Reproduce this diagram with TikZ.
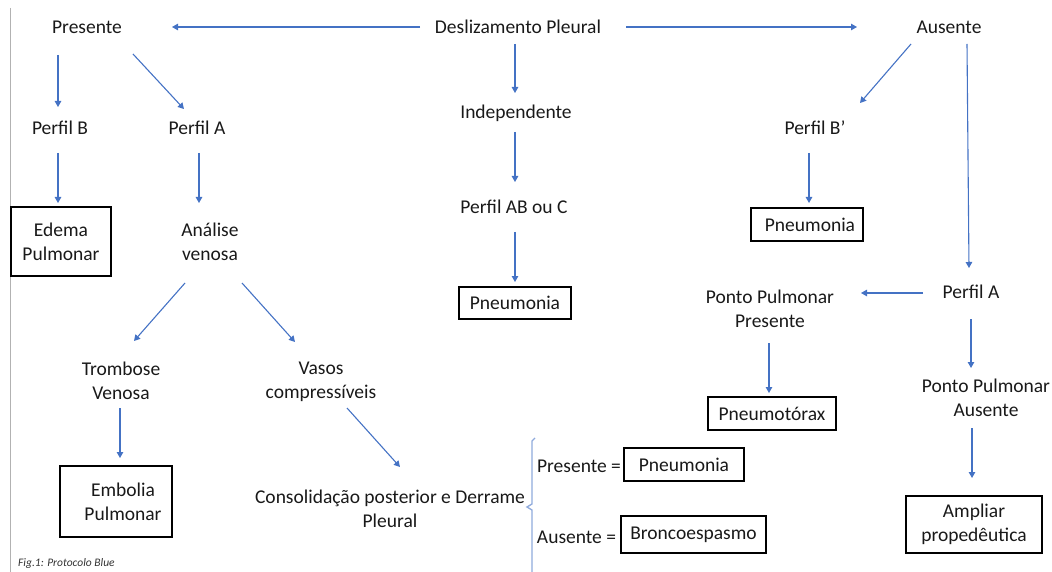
\documentclass[tikz,border=0pt]{standalone}
\usepackage{fontspec}
\setmainfont{Carlito}
\usetikzlibrary{arrows.meta,calc}
\definecolor{flowblue}{HTML}{4472C4}
\definecolor{bracelight}{HTML}{8FAADC}
\tikzset{
  txt/.style={font=\fontsize{19.5}{24}\selectfont,inner sep=0pt,align=center,text=black!90},
  result/.style={txt,draw=black,line width=2pt},
  flow/.style={draw=flowblue,line width=1.1pt,-{Triangle[length=6pt,width=6.5pt]}}
}
\begin{document}
\begin{tikzpicture}[x=1pt,y=-1pt]
\useasboundingbox (0,0) rectangle (1052,572);
\draw [black!30,line width=1pt] (10,8) -- (10,572);
% top row
\node (desl) at (518,27) [txt] {Deslizamento Pleural};
\node (pres) at (87,27) [txt] {Presente};
\node  (aus) at (949,27) [txt] {Ausente};
% left branch
\node  (perfB) at (60,128) [txt] {Perfil B};
\node  (perfA) at (197,128) [txt] {Perfil A};
\node  (edema) at (61,241.5) [result,minimum width=100pt,minimum height=69pt] {Edema\\Pulmonar};
\node (analise) at (210,242) [txt] {Análise\\venosa};
\node  (tromb) at (121,381) [txt] {Trombose\\Venosa};
\node  (vasos) at (321,381.5) [txt] {Vasos\\compressíveis};
\node (embolia) at (116,501.5) [result,minimum width=112pt,minimum height=71pt] {\hspace*{14pt}Embolia\\\hspace*{14pt}Pulmonar};
\node (consol) at (390,508.5) [txt] {Consolidação posterior e Derrame\\Pleural};
\node (presIg) at (579,466) [txt] {Presente =};
\node  (ausIg) at (576.5,537) [txt] {Ausente =};
\node (pneuSm) at (684,464.5) [result,minimum width=120pt,minimum height=33pt] {Pneumonia};
\node (bronco) at (693.5,534.5) [result,minimum width=145pt,minimum height=37pt] {Broncoespasmo};
% middle branch
\node  (indep) at (516,113) [txt] {Independente};
\node (perfAB) at (514,207) [txt] {Perfil AB ou C};
\node (pneuMid) at (515,303) [result,minimum width=112pt,minimum height=32pt] {Pneumonia};
% right branch
\node (perfBp) at (815,128) [txt] {Perfil B'};
\node  (pneuR) at (807,224.5) [result,minimum width=112pt,minimum height=33pt] {\hspace*{6pt}Pneumonia};
\node (perfAr) at (971,292) [txt] {Perfil A};
\node (pontoPres) at (770,308.5) [txt] {Ponto Pulmonar\\Presente};
\node (pontoAus) at (986,397.5) [txt] {Ponto Pulmonar\\Ausente};
\node (pneumot) at (772,413.5) [result,minimum width=128pt,minimum height=33pt] {Pneumotórax};
\node (ampliar) at (974,524.5) [result,minimum width=136pt,minimum height=57pt] {Ampliar\\propedêutica};
\node (caption) at (18,563) [anchor=west,inner sep=0pt,font=\fontsize{11.5}{13}\selectfont\itshape,text=black!80] {Fig.1: Protocolo Blue};
% brace
\draw [bracelight,line width=1.3pt] (535,438) -- (532,441) -- (532,504) -- (527,507) -- (532,510) -- (532,572);
% arrows
\draw [flow] ($(desl)+(-98,0)$) -- ($(pres)+(85,0)$);
\draw [flow] ($(desl)+(108,0)$) -- ($(aus)+(-92,0)$);
\draw [flow] ($(desl)+(-3,17)$) -- ($(indep)+(-1,-20)$);
\draw [flow] ($(indep)+(-1,19)$) -- ($(perfAB)+(1,-25)$);
\draw [flow] ($(perfAB)+(1,25)$) -- ($(pneuMid)+(0,-21)$);
\draw [flow] ($(pres)+(-29,28)$) -- ($(perfB)+(-2,-21)$);
\draw [flow] ($(pres)+(46,27)$) -- ($(perfA)+(-13,-19)$);
\draw [flow] ($(perfB)+(-2,25)$) -- ($(edema)+(-3,-38.5)$);
\draw [flow] ($(perfA)+(2,25)$) -- ($(analise)+(-11,-39)$);
\draw [flow] ($(analise)+(-25,41)$) -- ($(tromb)+(13,-40)$);
\draw [flow] ($(analise)+(32,41)$) -- ($(vasos)+(-26,-39.5)$);
\draw [flow] ($(tromb)+(-1,27)$) -- ($(embolia)+(4,-43.5)$);
\draw [flow] ($(vasos)+(26,26.5)$) -- ($(consol)+(10,-41.5)$);
\draw [flow] ($(aus)+(-38,17)$) -- ($(perfBp)+(45,-25)$);
\draw [flow] ($(perfBp)+(-6,25)$) -- ($(pneuR)+(2,-21.5)$);
\draw [flow] ($(aus)+(18,17)$) -- ($(perfAr)+(-2,-24)$);
\draw [flow] ($(perfAr)+(-48,1)$) -- ($(pontoPres)+(91,-15.5)$);
\draw [flow] ($(perfAr)+(0,27)$) -- ($(pontoAus)+(-15,-29.5)$);
\draw [flow] ($(pontoPres)+(-1,34.5)$) -- ($(pneumot)+(-3,-20.5)$);
\draw [flow] ($(pontoAus)+(-14,30.5)$) -- ($(ampliar)+(-2,-46.5)$);
\end{tikzpicture}
\end{document}
